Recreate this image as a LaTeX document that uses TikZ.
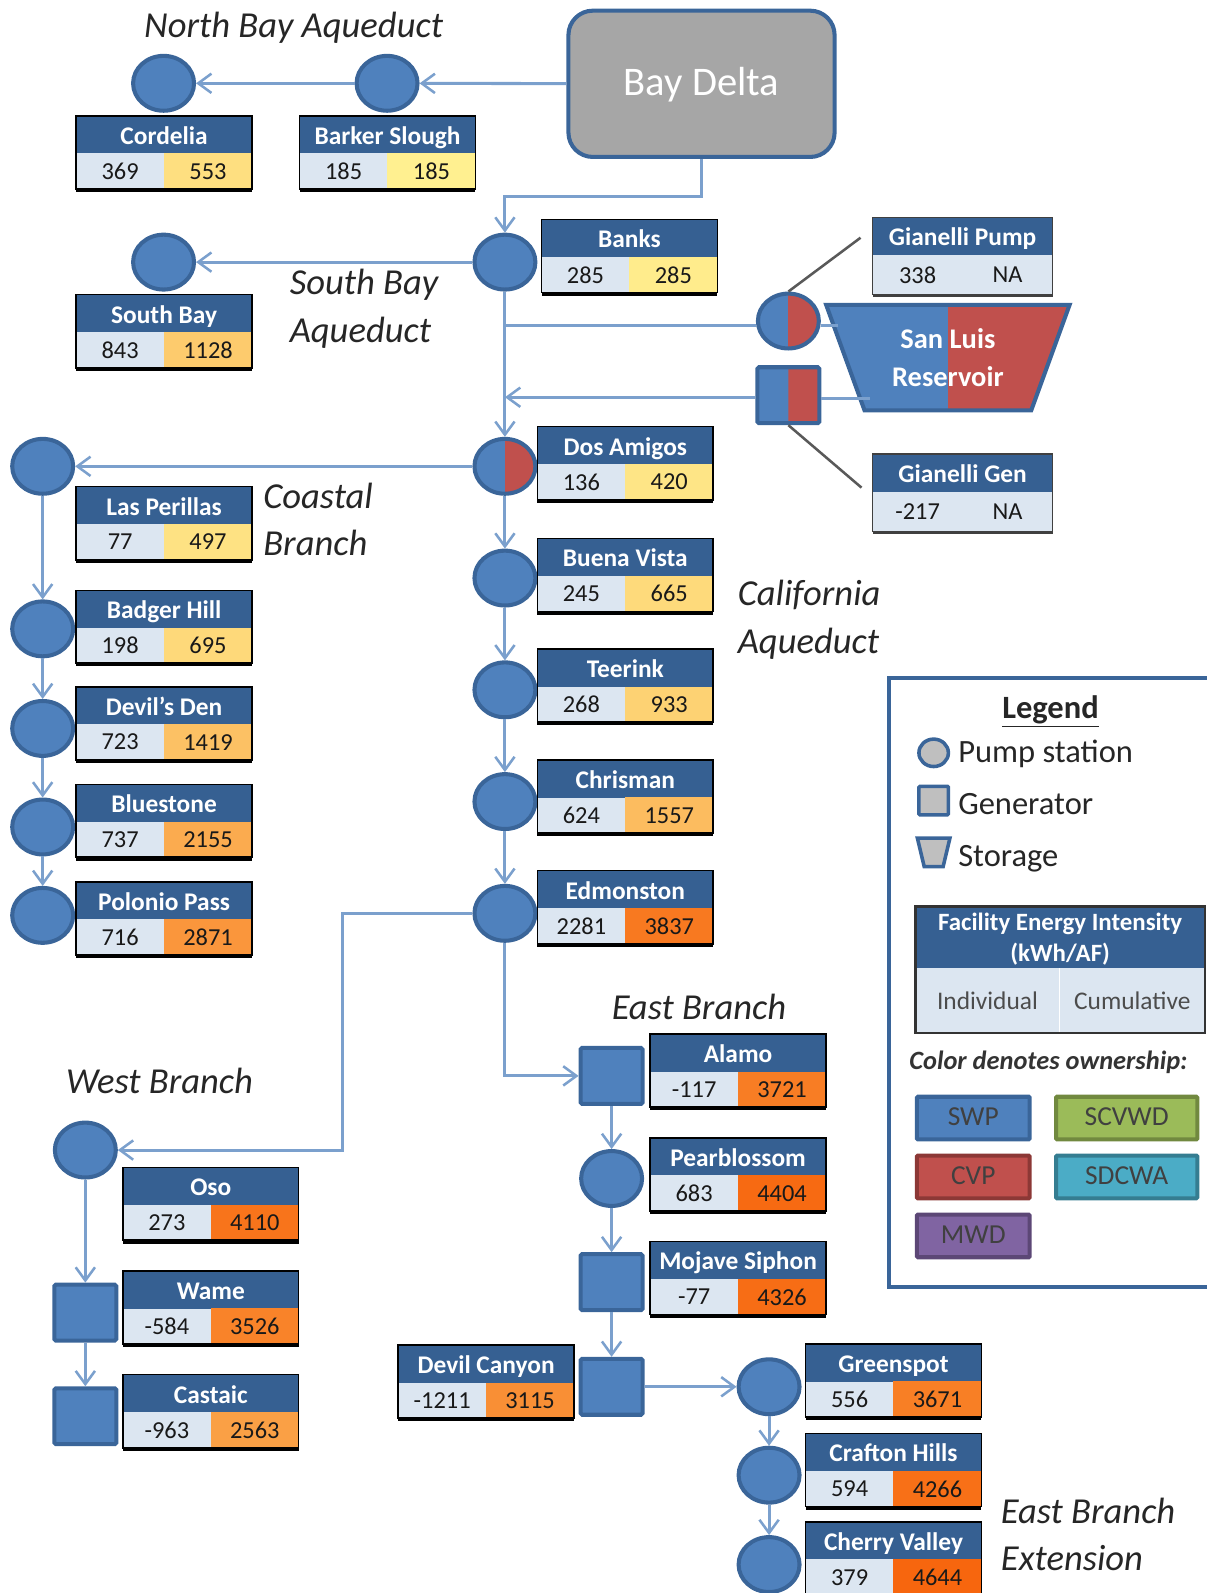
\documentclass[tikz,border=0pt]{standalone}
\usepackage{fontspec}
\setmainfont{Carlito}
\usetikzlibrary{arrows.meta}
\usetikzlibrary{positioning}
\usetikzlibrary{shapes.geometric}

\definecolor{swpblue}{HTML}{4F81BD}
\definecolor{swpedge}{HTML}{3A6599}
\definecolor{cvpred}{HTML}{C0504D}
\definecolor{cvpedge}{HTML}{8C3836}
\definecolor{scvgreen}{HTML}{9BBB59}
\definecolor{scvedge}{HTML}{71893F}
\definecolor{sdcteal}{HTML}{4BACC6}
\definecolor{sdcedge}{HTML}{357D91}
\definecolor{mwdpurple}{HTML}{8064A2}
\definecolor{mwdedge}{HTML}{5C4776}
\definecolor{pipeblue}{HTML}{7BA0CD}
\definecolor{headblue}{HTML}{366092}
\definecolor{cellblue}{HTML}{DCE6F1}
\definecolor{cumlo}{HTML}{FFF090}
\definecolor{cumhi}{HTML}{F7660E}
\definecolor{greyfill}{HTML}{BFBFBF}

\newcommand{\bodysize}[1]{\fontsize{#1}{#1}\selectfont}
\def\cellw{86.5}
\def\cellh{35}
\def\baseln{4}

% id, left, top, name, individual, cumulative, colour of the cumulative cell
\newcommand{\facility}[8][black]{
  \node[facname, minimum width=2*\cellw pt] (#2) at (#3,#4) {#5};
  \node[facval, minimum width=\cellw pt, minimum height=\cellh pt, fill=cellblue] (#2a) at (#2.south west) {#6};
  \node[facval, minimum width=\cellw pt, minimum height=\cellh pt, fill=#8, draw=#8, line width=.4pt] (#2b) at (#2a.north east) {#7};
  \draw[#1, line width=1.5pt] (#2.north west) rectangle (#2b.south east);
  \draw[#1, line width=\baseln pt] ([yshift=-1pt]#2a.south west) -- ([yshift=-1pt]#2b.south east);
}

\begin{document}
\begin{tikzpicture}[x=1pt, y=-1pt, >={Straight Barb[length=13pt,width=19pt,line width=2.5pt]}, node distance=110pt]
  \tikzstyle{pipe}=[->, draw=pipeblue, line width=3pt]
  \tikzstyle{plainpipe}=[draw=pipeblue, line width=3pt]
  \tikzstyle{leader}=[draw=black!65, line width=2.5pt]
  \tikzstyle{pump}=[ellipse, draw=swpedge, fill=swpblue, line width=4pt, minimum width=60pt, minimum height=54pt, inner sep=0pt]
  \tikzstyle{gen}=[rectangle, draw=swpedge, fill=swpblue, line width=4pt, rounded corners=1.5pt, minimum width=61pt, minimum height=55pt, inner sep=0pt]
  \tikzstyle{halfred}=[path picture={\fill[cvpred] (path picture bounding box.north) rectangle (path picture bounding box.south east);}]
  \tikzstyle{facname}=[anchor=north west, fill=headblue, text=white, font=\bodysize{25}\bfseries, minimum height=37pt, text height=24pt, text depth=5pt, inner sep=0pt, outer sep=0pt]
  \tikzstyle{facval}=[anchor=north west, text=black!90, font=\bodysize{24}, minimum height=34pt, inner sep=0pt, outer sep=0pt]
  \tikzstyle{branchname}=[text=black!85, font=\bodysize{36}\itshape, inner sep=0pt, align=left]
  \tikzstyle{legendtext}=[text=black!85, font=\bodysize{32}, anchor=west, inner sep=0pt]
  \tikzstyle{owner}=[rectangle, line width=4pt, text=black!75, font=\bodysize{27}, text depth=3pt, rounded corners=1pt, minimum width=111pt, minimum height=42pt, inner sep=0pt]

  \useasboundingbox (0,0) rectangle (1188,1568);

  % source and north bay
  \node[rectangle, draw=swpedge, fill=black!35, line width=4pt, rounded corners=24pt, minimum width=262pt, minimum height=144pt, text=white, text depth=4pt, font=\bodysize{40}] (baydelta) at (690.5,82.5) {Bay Delta};
  \node[pump] (barker) at (381,82) {};
  \node[pump] (cordelia) at (161,82) {};
  \facility{tcordelia}{75}{114}{Cordelia}{369}{553}{cumhi!12!cumlo}
  \facility{tbarker}{295}{114}{Barker Slough}{185}{185}{cumlo}

  % south bay, banks
  \node[pump] (banks) at (497,258) {};
  \node[pump] (southbay) at (161,258) {};
  \facility{tbanks}{533}{216}{Banks}{285}{285}{cumhi!3!cumlo}
  \facility{tsouthbay}{75}{290}{South Bay}{843}{1128}{cumhi!27!cumlo}

  % san luis
  \node[pump, halfred] (gpump) at (776,316) {};
  \node[gen, halfred] (ggen) at (776,389) {};
  \node[trapezium, shape border rotate=180, trapezium stretches=true, trapezium angle=66, draw=swpedge, fill=swpblue, line width=4pt, minimum width=240pt, minimum height=104pt, inner sep=0pt, align=center, text=white, font=\bodysize{28}\bfseries, halfred] (sanluis) at (933,352) {San Luis\\[9pt]Reservoir};
  \def\cellw{88.5}
  \def\cellh{39}
  \def\baseln{2.5}
  \facility[black!75]{tgpump}{859}{214}{Gianelli Pump}{338}{NA}{cellblue}
  \facility[black!75]{tggen}{859}{447}{Gianelli Gen}{-217}{NA}{cellblue}
  \def\cellw{86.5}
  \def\cellh{35}
  \def\baseln{4}

  % california aqueduct
  \node[pump, halfred] (dos) at (497,459) {};
  \node[pump] (buena) [below of=dos] {};
  \node[pump] (teerink) [below of=buena] {};
  \node[pump] (chrisman) [below of=teerink] {};
  \node[pump] (edmonston) [below of=chrisman] {};
  \facility{tdos}{529}{420}{Dos Amigos}{136}{420}{cumhi!8!cumlo}
  \facility{tbuena}{529}{530}{Buena Vista}{245}{665}{cumhi!16!cumlo}
  \facility{tteerink}{529}{639}{Teerink}{268}{933}{cumhi!22!cumlo}
  \facility{tchrisman}{529}{748}{Chrisman}{624}{1557}{cumhi!38!cumlo}
  \facility{tedmonston}{529}{857}{Edmonston}{2281}{3837}{cumhi!86!cumlo}

  % coastal branch
  \node[pump] (perillas) at (42,459) {};
  \node[pump] (badger) at (42,619) {};
  \node[pump] (devils) [below of=badger, node distance=98pt] {};
  \node[pump] (bluestone) [below of=devils, node distance=97pt] {};
  \node[pump] (polonio) [below of=bluestone, node distance=87pt] {};
  \facility{tperillas}{75}{479}{Las Perillas}{77}{497}{cumhi!10!cumlo}
  \facility{tbadger}{75}{581}{Badger Hill}{198}{695}{cumhi!17!cumlo}
  \facility{tdevils}{75}{676}{Devil's Den}{723}{1419}{cumhi!34!cumlo}
  \facility{tbluestone}{75}{772}{Bluestone}{737}{2155}{cumhi!50!cumlo}
  \facility{tpolonio}{75}{868}{Polonio Pass}{716}{2871}{cumhi!65!cumlo}

  % west branch
  \node[pump] (oso) at (84,1132) {};
  \node[gen] (wame) at (84,1292) {};
  \node[gen] (castaic) [below of=wame, node distance=102pt] {};
  \facility{toso}{121}{1149}{Oso}{273}{4110}{cumhi!90!cumlo}
  \facility{twame}{121}{1251}{Wame}{-584}{3526}{cumhi!79!cumlo}
  \facility{tcastaic}{121}{1353}{Castaic}{-963}{2563}{cumhi!58!cumlo}

  % east branch
  \node[gen] (alamo) at (602,1059) {};
  \node[pump] (pear) [below of=alamo, node distance=101pt] {};
  \node[gen] (mojave) [below of=pear, node distance=102pt] {};
  \node[gen] (canyon) [below of=mojave, node distance=103pt] {};
  \node[pump] (greenspot) at (757,1365) {};
  \node[pump] (crafton) [below of=greenspot, node distance=87pt] {};
  \node[pump] (cherry) [below of=crafton, node distance=88pt] {};
  \facility{talamo}{640}{1018}{Alamo}{-117}{3721}{cumhi!83!cumlo}
  \facility{tpear}{640}{1120}{Pearblossom}{683}{4404}{cumhi!97!cumlo}
  \facility{tmojave}{640}{1222}{Mojave Siphon}{-77}{4326}{cumhi!95!cumlo}
  \facility{tcanyon}{392}{1324}{Devil Canyon}{-1211}{3115}{cumhi!70!cumlo}
  \facility{tgreenspot}{793}{1323}{Greenspot}{556}{3671}{cumhi!82!cumlo}
  \facility{tcrafton}{793}{1411}{Crafton Hills}{594}{4266}{cumhi!93!cumlo}
  \facility{tcherry}{793}{1498}{Cherry Valley}{379}{4644}{cumhi}

  % bends and free ends
  \coordinate (bayelbow) at (497,193);
  \coordinate (tapup) at (497,320);
  \coordinate (tapdown) at (497,391);
  \coordinate (resin) at (825,320);
  \coordinate (resout) at (856,392);
  \coordinate (westelbow) at (337,899);
  \coordinate (pumpleader) at (847,234);
  \coordinate (genleader) at (848,480);

  \path[pipe]
      (baydelta) edge (barker)
      (barker) edge (cordelia)
      (banks) edge (southbay)
      (banks) edge (dos)
      (dos) edge (perillas)
      (dos) edge (buena)
      (buena) edge (teerink)
      (teerink) edge (chrisman)
      (chrisman) edge (edmonston)
      (perillas) edge (badger)
      (badger) edge (devils)
      (devils) edge (bluestone)
      (bluestone) edge (polonio)
      (oso) edge (wame)
      (wame) edge (castaic)
      (alamo) edge (pear)
      (pear) edge (mojave)
      (mojave) edge (canyon)
      (canyon) edge (greenspot)
      (greenspot) edge (crafton)
      (crafton) edge (cherry)
  ;
  \draw[pipe] (baydelta.south) |- (bayelbow) -- (banks.north);
  \draw[pipe] (edmonston.west) -- (westelbow) |- (oso.east);
  \draw[pipe] (edmonston.south) |- (alamo.west);
  \draw[pipe] (ggen.west |- tapdown) -- (tapdown);
  \draw[plainpipe] (tapup) -- (gpump.west |- tapup);
  \draw[plainpipe] (gpump.east |- resin) -- (resin);
  \draw[plainpipe] (ggen.east |- resout) -- (resout);
  \draw[leader] (gpump.north) -- (pumpleader);
  \draw[leader] (ggen.south) -- (genleader);

  % branch names
  \node[branchname] (lnorth) at (289,27) {North Bay Aqueduct};
  \node[branchname, anchor=west] (lsouth) at (285,280) {South Bay};
  \node[branchname, anchor=west] (lsouthb) at (285,328) {Aqueduct};
  \node[branchname, anchor=west] (lcoast) at (259,488) {Coastal};
  \node[branchname, anchor=west] (lcoastb) at (259,534) {Branch};
  \node[branchname, anchor=west] (lcal) at (726,586) {California};
  \node[branchname, anchor=west] (lcalb) at (726,634) {Aqueduct};
  \node[branchname] (least) at (688,991) {East Branch};
  \node[branchname] (lwest) at (157,1064) {West Branch};
  \node[branchname, anchor=west] (lext) at (985,1487) {East Branch};
  \node[branchname, anchor=west] (lextb) at (985,1534) {Extension};

  % legend
  \draw[swpedge, line width=4pt] (1188,667) -- (875,667) -- (875,1267) -- (1188,1267);
  \node[text=black!85, font=\bodysize{32}\bfseries, inner sep=0pt] (llegend) at (1034,700) {\underline{Legend}};
  \node[ellipse, draw=swpedge, fill=greyfill, line width=3.5pt, minimum width=29pt, minimum height=27pt, inner sep=0pt] (kpump) at (919,741) {};
  \node[rectangle, draw=swpedge, fill=greyfill, line width=3.5pt, rounded corners=1pt, minimum width=29pt, minimum height=28pt, inner sep=0pt] (kgen) at (919,788) {};
  \node[trapezium, shape border rotate=180, trapezium stretches=true, trapezium angle=72, draw=swpedge, fill=greyfill, line width=3.5pt, minimum width=32pt, minimum height=28pt, inner sep=0pt] (kstore) at (919,839) {\phantom{x}};
  \node[legendtext] (tpump) at (943,742) {Pump station};
  \node[legendtext] (tgen) at (943,791) {Generator};
  \node[legendtext] (tstore) at (943,845) {Storage};

  \node[rectangle, fill=headblue, text=white, font=\bodysize{24.5}\bfseries, minimum width=285pt, minimum height=61pt, inner sep=0pt, outer sep=0pt, align=center, anchor=north west] (kname) at (901,892) {\rule{0pt}{21pt}Facility Energy Intensity\\[6pt](kWh/AF)};
  \node[facval, fill=cellblue, text=black!70, font=\bodysize{25}, minimum width=142pt, minimum height=64pt] (kind) at (kname.south west) {Individual};
  \node[facval, fill=cellblue, text=black!70, font=\bodysize{25}, minimum width=143pt, minimum height=64pt] (kcum) at (kind.north east) {Cumulative};
  \draw[white, line width=1.5pt] (kind.north east) -- (kind.south east);
  \draw[black!80, line width=2.5pt] (kname.north west) rectangle (kcum.south east);
  \node[text=black!80, font=\bodysize{26}\bfseries\itshape, inner sep=0pt] (lcolor) at (1032,1046) {Color denotes ownership:};

  \node[owner, draw=swpedge, fill=swpblue] (kswp) at (958,1100.5) {SWP};
  \node[owner, draw=cvpedge, fill=cvpred] (kcvp) at (958,1158.5) {CVP};
  \node[owner, draw=mwdedge, fill=mwdpurple] (kmwd) at (958,1216.5) {MWD};
  \node[owner, draw=scvedge, fill=scvgreen, minimum width=139pt] (kscv) at (1109,1100.5) {SCVWD};
  \node[owner, draw=sdcedge, fill=sdcteal, minimum width=139pt] (ksdc) at (1109,1158.5) {SDCWA};
\end{tikzpicture}
\end{document}
